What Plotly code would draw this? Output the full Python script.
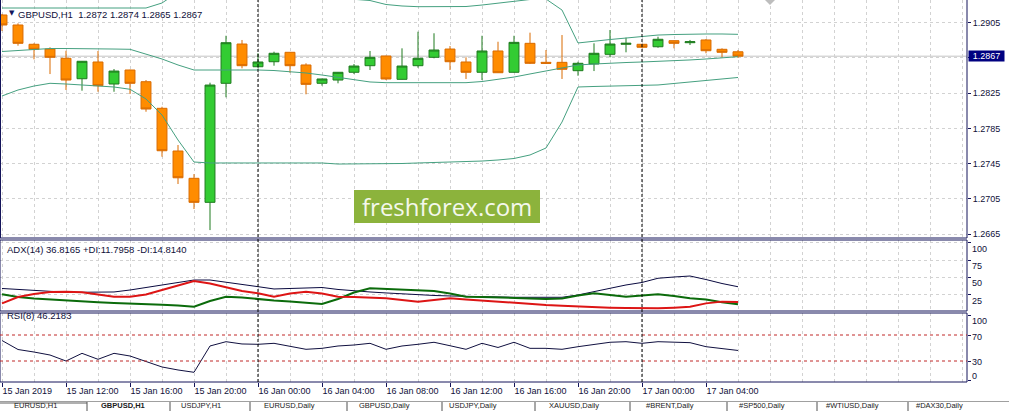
import pandas as pd
import plotly.graph_objects as go
from plotly.subplots import make_subplots

# hourly bars, 15 Jan 08:00 .. 17 Jan 06:00
times = pd.date_range("2019-01-15 08:00", periods=47, freq="h")

opens = [1.29138, 1.29024, 1.28805, 1.28751, 1.28646, 1.28414, 1.28604, 1.28354, 1.28513, 1.28380,
         1.28078, 1.27593, 1.27283, 1.27010, 1.28362, 1.28808, 1.28550, 1.28607, 1.28714, 1.28570,
         1.28362, 1.28399, 1.28487, 1.28562, 1.28672, 1.28407, 1.28562, 1.28657, 1.28751, 1.28604,
         1.28487, 1.28729, 1.28487, 1.28816, 1.28600, 1.28600, 1.28505, 1.28581, 1.28691, 1.28805,
         1.28805, 1.28777, 1.28846, 1.28823, 1.28854, 1.28748, 1.28720]
highs = [1.29150, 1.29043, 1.28816, 1.28771, 1.28732, 1.28615, 1.28729, 1.28524, 1.28516, 1.28399,
         1.28096, 1.27661, 1.27331, 1.28369, 1.28902, 1.28854, 1.28703, 1.28721, 1.28717, 1.28589,
         1.28414, 1.28490, 1.28581, 1.28729, 1.28675, 1.28759, 1.28948, 1.28930, 1.28785, 1.28657,
         1.28902, 1.28834, 1.28902, 1.28937, 1.28740, 1.28910, 1.28607, 1.28816, 1.28967, 1.28880,
         1.28808, 1.28891, 1.28848, 1.28854, 1.28865, 1.28759, 1.28740]
lows = [1.28956, 1.28789, 1.28634, 1.28467, 1.28286, 1.28278, 1.28266, 1.28266, 1.28240, 1.28039,
        1.27528, 1.27218, 1.26934, 1.26695, 1.28203, 1.28532, 1.28532, 1.28562, 1.28482, 1.28237,
        1.28335, 1.28362, 1.28467, 1.28513, 1.28399, 1.28405, 1.28539, 1.28646, 1.28513, 1.28411,
        1.28399, 1.28480, 1.28485, 1.28581, 1.28587, 1.28411, 1.28448, 1.28501, 1.28657, 1.28714,
        1.28759, 1.28766, 1.28759, 1.28797, 1.28703, 1.28657, 1.28650]
closes = [1.29024, 1.28816, 1.28748, 1.28657, 1.28399, 1.28612, 1.28335, 1.28501, 1.28362, 1.28070,
          1.27596, 1.27289, 1.27010, 1.28342, 1.28823, 1.28562, 1.28604, 1.28703, 1.28562, 1.28350,
          1.28411, 1.28487, 1.28558, 1.28657, 1.28411, 1.28558, 1.28646, 1.28740, 1.28607, 1.28487,
          1.28729, 1.28482, 1.28827, 1.28589, 1.28589, 1.28521, 1.28589, 1.28703, 1.28808, 1.28816,
          1.28771, 1.28862, 1.28816, 1.28834, 1.28732, 1.28714, 1.28670]

bb_upper = [1.29217, 1.29217, 1.29217, 1.29217, 1.29217, 1.29217, 1.29217, 1.29217, 1.29217, 1.29217,
            1.29274, 1.29400, 1.29520, 1.29500, 1.29500, 1.29480, 1.29460, 1.29440, 1.29410, 1.29380,
            1.29350, 1.29330, 1.29320, 1.29302, 1.29257, 1.29240, 1.29232, 1.29232, 1.29232, 1.29234,
            1.29251, 1.29274, 1.29297, 1.29314, 1.29319, 1.29194, 1.28820, 1.28842, 1.28859, 1.28876,
            1.28893, 1.28910, 1.28916, 1.28922, 1.28922, 1.28922, 1.28918]
bb_mid = [1.28723, 1.28734, 1.28746, 1.28757, 1.28757, 1.28757, 1.28757, 1.28751, 1.28748, 1.28695,
          1.28638, 1.28570, 1.28513, 1.28513, 1.28513, 1.28519, 1.28513, 1.28507, 1.28494, 1.28479,
          1.28456, 1.28428, 1.28399, 1.28377, 1.28369, 1.28369, 1.28369, 1.28369, 1.28369, 1.28369,
          1.28382, 1.28405, 1.28433, 1.28468, 1.28502, 1.28530, 1.28570, 1.28581, 1.28592, 1.28598,
          1.28604, 1.28609, 1.28615, 1.28627, 1.28638, 1.28649, 1.28664]
bb_lower = [1.28218, 1.28286, 1.28331, 1.28362, 1.28354, 1.28343, 1.28331, 1.28320, 1.28294, 1.28184,
            1.28002, 1.27718, 1.27468, 1.27457, 1.27457, 1.27457, 1.27457, 1.27457, 1.27457, 1.27457,
            1.27457, 1.27445, 1.27445, 1.27445, 1.27445, 1.27451, 1.27457, 1.27462, 1.27468, 1.27474,
            1.27479, 1.27491, 1.27508, 1.27548, 1.27627, 1.27922, 1.28320, 1.28326, 1.28331, 1.28337,
            1.28343, 1.28343, 1.28360, 1.28377, 1.28394, 1.28411, 1.28428]

adx = [34.3, 33.1, 32.1, 30.7, 28.9, 28.9, 28.9, 29.3, 32.1, 35.7,
       38.6, 42.9, 46.4, 46.4, 42.9, 40.0, 36.9, 33.6, 34.3, 35.7,
       35.7, 32.9, 30.7, 29.3, 27.9, 26.4, 25.0, 24.3, 23.6, 22.9,
       22.1, 21.7, 21.7, 21.7, 21.7, 21.7, 25.0, 30.0, 34.6, 39.3,
       42.9, 48.9, 50.7, 52.1, 47.1, 41.4, 36.8165]
plus_di = [26.0, 22.1, 20.0, 18.6, 16.4, 15.4, 14.6, 13.6, 13.1, 12.1,
           11.1, 10.0, 8.3, 16.4, 22.6, 21.4, 18.9, 17.1, 15.7, 14.0,
           12.1, 19.3, 28.6, 34.6, 33.6, 32.9, 31.4, 30.7, 27.1, 22.6,
           22.1, 21.7, 20.7, 20.0, 19.3, 20.0, 24.3, 27.4, 25.0, 22.6,
           24.3, 26.0, 23.6, 20.3, 18.6, 14.5, 11.7958]
minus_di = [13.1, 22.1, 26.4, 29.3, 29.7, 28.9, 25.7, 22.6, 22.6, 25.7,
            32.1, 38.6, 45.0, 41.4, 35.7, 30.7, 27.4, 22.6, 27.1, 29.7,
            27.1, 22.6, 22.1, 21.4, 20.3, 17.9, 15.4, 17.9, 20.3, 18.6,
            16.9, 15.7, 13.6, 12.1, 10.7, 9.7, 8.6, 7.4, 6.9, 6.4,
            6.0, 6.0, 6.9, 8.3, 13.0, 15.5, 14.8140]

rsi = [61.5, 47.7, 43.8, 39.2, 30.0, 41.8, 32.6, 41.8, 37.7, 29.2,
       20.8, 16.2, 12.6, 53.1, 59.7, 56.2, 55.7, 57.2, 53.1, 48.0,
       49.5, 53.1, 54.6, 57.2, 48.0, 53.1, 55.7, 58.8, 53.5, 48.0,
       57.2, 50.8, 58.8, 49.5, 49.5, 48.0, 52.0, 55.7, 58.8, 59.7,
       57.2, 59.7, 59.2, 58.2, 52.0, 49.5, 46.2183]

price_ticks = [1.2665, 1.2705, 1.2745, 1.2785, 1.2825, 1.2865, 1.2905]
price_labels = ["1.2665", "1.2705", "1.2745", "1.2785", "1.2825", "", "1.2905"]
last_price = 1.2867
adx_levels = [25, 50, 75, 100]
rsi_levels = [0, 30, 70, 100]

time_ticks = pd.date_range("2019-01-15 08:00", "2019-01-17 04:00", freq="4h")
time_labels = ["15 Jan 2019"] + [t.strftime("%d Jan %H:%M").lstrip("0") for t in time_ticks[1:]]
day_breaks = ["2019-01-16 00:00", "2019-01-17 00:00"]

tabs = ["EURUSD,H1", "GBPUSD,H1", "USDJPY,H1", "EURUSD,Daily", "GBPUSD,Daily", "USDJPY,Daily",
        "XAUUSD,Daily", "#BRENT,Daily", "#SP500,Daily", "#WTIUSD,Daily", "#DAX30,Daily"]
tab_left = [13, 100, 180, 263, 358, 448, 548, 645, 738, 825, 915]
tab_edges = [87, 170, 250, 347, 442, 535, 630, 727, 817, 908]

NAVY = "#14145a"
GRID = "#d2d2d2"
TXT = "#10103a"
W, H = 1009, 411
PW, PH = 967, 382  # plot area in px


def px(xp):
    return xp / PW


def py(yp):
    return (PH - yp) / PH


fig = make_subplots(rows=3, cols=1, shared_xaxes=True, vertical_spacing=0.01)

fig.add_trace(go.Candlestick(
    x=times, open=opens, high=highs, low=lows, close=closes,
    increasing=dict(line=dict(color="#1f7a1f", width=1), fillcolor="#33cc33"),
    decreasing=dict(line=dict(color="#d96b00", width=1), fillcolor="#ff8c00"),
    whiskerwidth=0, showlegend=False, hoverinfo="skip",
), row=1, col=1)

for band in (bb_upper, bb_mid, bb_lower):
    fig.add_trace(go.Scatter(
        x=times, y=band, mode="lines",
        line=dict(color="#45a080", width=1),
        showlegend=False, hoverinfo="skip",
    ), row=1, col=1)

fig.add_trace(go.Scatter(x=times, y=adx, mode="lines", line=dict(color="#0a0a40", width=1),
                         showlegend=False, hoverinfo="skip"), row=2, col=1)
fig.add_trace(go.Scatter(x=times, y=plus_di, mode="lines", line=dict(color="#0b6b0b", width=2),
                         showlegend=False, hoverinfo="skip"), row=2, col=1)
fig.add_trace(go.Scatter(x=times, y=minus_di, mode="lines", line=dict(color="#dd1515", width=2),
                         showlegend=False, hoverinfo="skip"), row=2, col=1)

fig.add_trace(go.Scatter(x=times, y=rsi, mode="lines", line=dict(color="#101040", width=1),
                         showlegend=False, hoverinfo="skip"), row=3, col=1)

x_range = ["2019-01-15 07:52:30", "2019-01-17 20:18:45"]
minor_grid = dict(tickmode="linear", tick0="2019-01-15 08:00", dtick=2 * 3600 * 1000,
                  showgrid=True, gridcolor=GRID, griddash="3px,3px", ticks="")
xcommon = dict(range=x_range, showgrid=True, gridcolor=GRID, griddash="3px,3px",
               tickmode="array", tickvals=time_ticks, zeroline=False, showline=False,
               minor=minor_grid, rangeslider=dict(visible=False))

fig.update_layout(
    width=W, height=H,
    margin=dict(l=0, r=W - PW, t=0, b=H - PH),
    paper_bgcolor="white", plot_bgcolor="white",
    font=dict(family="Liberation Sans, Arial, sans-serif", size=9, color=TXT),
    boxgap=0.38, boxgroupgap=0,
    showlegend=False,
    xaxis=dict(xcommon, showticklabels=False, ticks=""),
    xaxis2=dict(xcommon, showticklabels=False, ticks=""),
    xaxis3=dict(xcommon, showticklabels=True, ticktext=time_labels, ticks="outside",
                ticklen=4, tickcolor=NAVY, ticklabelposition="outside right",
                tickfont=dict(size=9, color=TXT)),
    yaxis=dict(domain=[py(238), 1], range=[1.26605, 1.29308], side="right",
               tickmode="array", tickvals=price_ticks, ticktext=price_labels,
               showgrid=True, gridcolor=GRID, griddash="3px,3px", zeroline=False,
               ticks="outside", ticklen=3, tickcolor=NAVY),
    yaxis2=dict(domain=[py(311), py(240)], range=[2.1, 103.6], side="right",
                tickmode="array", tickvals=adx_levels, showticklabels=False,
                showgrid=True, gridcolor=GRID, griddash="3px,3px", zeroline=False,
                ticks="outside", ticklen=3, tickcolor=NAVY),
    yaxis3=dict(domain=[0, py(313)], range=[-2.3, 103.85], side="right",
                tickmode="array", tickvals=rsi_levels, showticklabels=False,
                showgrid=False, zeroline=False,
                ticks="outside", ticklen=3, tickcolor=NAVY),
)

# pane borders
border = dict(color=NAVY, width=1)
fig.add_shape(type="line", xref="paper", yref="y domain", x0=0, x1=0, y0=0, y1=1, line=dict(color=NAVY, width=2))
fig.add_shape(type="line", xref="paper", yref="y domain", x0=1, x1=1, y0=0, y1=1, line=border)
fig.add_shape(type="line", xref="paper", yref="y domain", x0=0, x1=1, y0=0, y1=0, line=border)
fig.add_shape(type="rect", xref="paper", yref="y2 domain", x0=0, x1=1, y0=0, y1=1, line=border)
fig.add_shape(type="rect", xref="paper", yref="y3 domain", x0=0, x1=1, y0=0, y1=1, line=border)

# bid line
fig.add_shape(type="line", xref="x domain", yref="y", x0=0, x1=1, y0=last_price, y1=last_price,
              line=dict(color="#c4c4c4", width=1), layer="below")

# RSI levels
for lvl in (30, 70):
    fig.add_shape(type="line", xref="x3 domain", yref="y3", x0=0, x1=1, y0=lvl, y1=lvl,
                  line=dict(color="#c02828", width=1, dash="3px,3px"))

# day separators
for d in day_breaks:
    fig.add_shape(type="line", xref="x", yref="paper", x0=d, x1=d, y0=0, y1=1,
                  line=dict(color="black", width=1, dash="3px,2px"))

# chart shift marker
fig.add_shape(type="path", xref="paper", yref="paper",
              path=f"M {px(765)} {py(0)} L {px(775)} {py(0)} L {px(770)} {py(5)} Z",
              fillcolor="#bdbdbd", line=dict(width=0))

# watermark
fig.add_shape(type="rect", xref="paper", yref="paper", x0=px(354), x1=px(540), y0=py(223), y1=py(190),
              fillcolor="#8cb33c", line=dict(width=0))
fig.add_annotation(xref="paper", yref="paper", x=px(447), y=py(206.5), text="freshforex.com",
                   showarrow=False, font=dict(family="Open Sans", size=24, color="#f4f8ec"))

# titles
fig.add_annotation(xref="paper", yref="paper", x=px(7), y=py(7), text="▼", showarrow=False,
                   font=dict(family="DejaVu Sans", size=7, color=NAVY))
fig.add_annotation(xref="paper", yref="paper", x=px(16), y=py(7), xanchor="left",
                   text="GBPUSD,H1  1.2872 1.2874 1.2865 1.2867", showarrow=False,
                   font=dict(size=9.5, color=TXT))
fig.add_annotation(xref="paper", yref="paper", x=px(5), y=py(249.5), xanchor="left",
                   text="ADX(14) 36.8165 +DI:11.7958 -DI:14.8140", showarrow=False,
                   font=dict(size=9.5, color=TXT))
fig.add_annotation(xref="paper", yref="paper", x=px(5), y=py(322.5), xanchor="left",
                   text="RSI(8) 46.2183", showarrow=False, font=dict(size=9.5, color=TXT))

# last price tag
fig.add_annotation(xref="paper", yref="y", x=1, y=last_price, xanchor="left", xshift=1,
                   text="1.2867", showarrow=False, bgcolor="#000080", width=35, height=10,
                   borderpad=0, font=dict(size=9, color="white"))

# indicator scale labels
for lvl in adx_levels:
    fig.add_annotation(xref="paper", yref="y2", x=1, y=lvl, xanchor="left", xshift=3, yshift=-6,
                       text=str(lvl), showarrow=False, font=dict(size=9, color=TXT))
rsi_shift = {100: -5, 70: -1.5, 30: -0.5, 0: 5}
for lvl in rsi_levels:
    fig.add_annotation(xref="paper", yref="y3", x=1, y=lvl, xanchor="left", xshift=3,
                       yshift=rsi_shift[lvl], text=str(lvl), showarrow=False,
                       font=dict(size=9, color=TXT))

# bottom tab strip
fig.add_shape(type="line", xref="paper", yref="paper", x0=0, x1=px(W), y0=py(401.5), y1=py(401.5),
              line=dict(color="#a0a0a0", width=1))
fig.add_shape(type="line", xref="paper", yref="paper", x0=0, x1=px(87), y0=py(403), y1=py(403),
              line=dict(color="#606060", width=1))
for e in tab_edges:
    fig.add_shape(type="line", xref="paper", yref="paper", x0=px(e), x1=px(e), y0=py(402), y1=py(414),
                  line=dict(color="#505050", width=1))
for name, xl in zip(tabs, tab_left):
    fig.add_annotation(xref="paper", yref="paper", x=px(xl), y=py(411), xanchor="left", yanchor="bottom",
                       text=f"<b>{name}</b>" if name == "GBPUSD,H1" else name, showarrow=False,
                       borderpad=0, font=dict(size=7.5, color="#202020"))

fig.write_html("out.html", config={"displayModeBar": False},
               post_script="document.body.style.margin='0';")
